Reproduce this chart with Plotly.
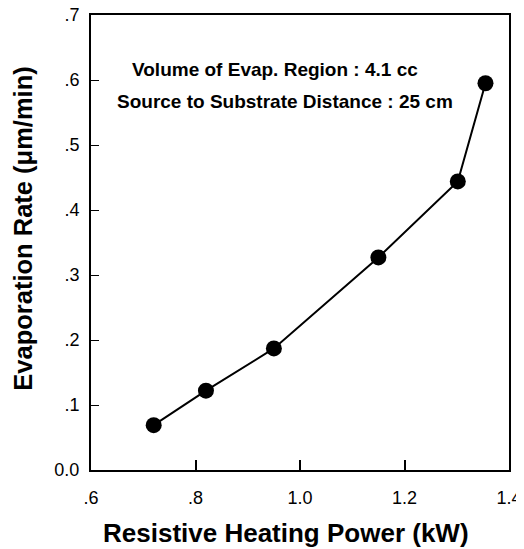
import plotly.graph_objects as go

power_kw = [0.72, 0.82, 0.95, 1.15, 1.302, 1.355]
evap_rate = [0.069, 0.122, 0.187, 0.327, 0.444, 0.595]

x_tickvals = [0.6, 0.8, 1.0, 1.2, 1.4]
x_ticktext = [".6", ".8", "1.0", "1.2", "1.4"]
y_tickvals = [0.0, 0.1, 0.2, 0.3, 0.4, 0.5, 0.6, 0.7]
y_ticktext = ["0.0", ".1", ".2", ".3", ".4", ".5", ".6", ".7"]

notes = ["Volume of Evap. Region : 4.1 cc", "Source to Substrate Distance : 25 cm"]
x_title = "Resistive Heating Power (kW)"
y_title = "Evaporation Rate (μm/min)"

font = "Liberation Sans, Arial, sans-serif"

fig = go.Figure()
fig.add_trace(go.Scatter(
    x=power_kw, y=evap_rate, mode="lines+markers",
    line=dict(color="black", width=2),
    marker=dict(color="black", size=16, symbol="circle"),
    showlegend=False,
))

# page body adds an 8px margin, so the figure is sized/offset to compensate
fig.update_layout(
    width=516, height=541,
    margin=dict(l=83, r=15, t=7, b=79),
    paper_bgcolor="white", plot_bgcolor="white",
    font=dict(family=font, color="black"),
)
fig.update_xaxes(
    range=[0.6, 1.4], tickvals=x_tickvals, ticktext=x_ticktext,
    ticks="inside", ticklen=10, tickwidth=1.5, tickcolor="black",
    showline=True, linecolor="black", linewidth=2, mirror=True,
    showgrid=False, zeroline=False, automargin=False,
    tickfont=dict(size=18, family=font), ticklabelstandoff=10,
    ticklabeloverflow="allow",
)
fig.update_yaxes(
    range=[0.0, 0.7], tickvals=y_tickvals, ticktext=y_ticktext,
    ticks="inside", ticklen=8, tickwidth=1, tickcolor="black",
    showline=True, linecolor="black", linewidth=2, mirror=True,
    showgrid=False, zeroline=False, automargin=False,
    tickfont=dict(size=18, family=font), ticklabelstandoff=6,
    ticklabeloverflow="allow",
)

fig.add_annotation(x=0.4665, y=-0.138, xref="paper", yref="paper", text="<b>" + x_title + "</b>",
                   showarrow=False, font=dict(size=26, family=font), xanchor="center", yanchor="middle")
fig.add_annotation(x=-0.163, y=0.530, xref="paper", yref="paper", text="<b>" + y_title + "</b>",
                   textangle=-90, showarrow=False, font=dict(size=25.5, family=font),
                   xanchor="center", yanchor="middle")
fig.add_annotation(x=0.439, y=0.881, xref="paper", yref="paper", text="<b>" + notes[0] + "</b>",
                   showarrow=False, font=dict(size=19, family=font), xanchor="center", yanchor="middle")
fig.add_annotation(x=0.464, y=0.809, xref="paper", yref="paper", text="<b>" + notes[1] + "</b>",
                   showarrow=False, font=dict(size=19, family=font), xanchor="center", yanchor="middle")

fig.write_html("out.html")
